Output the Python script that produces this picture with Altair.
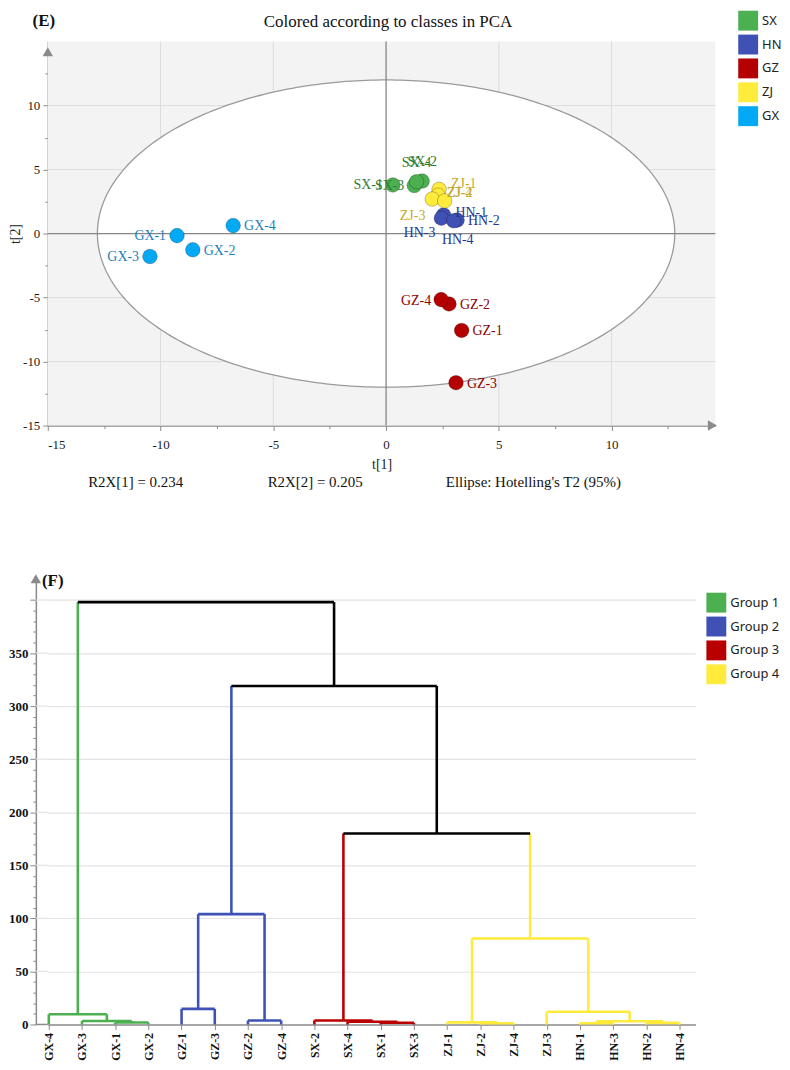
import altair as alt
import numpy as np
import pandas as pd

SERIF = "Liberation Serif"
SANS = "Noto Sans"

# ================= Panel (E): PCA score plot =================
pca_names = ["SX-1", "SX-2", "SX-3", "SX-4",
             "HN-1", "HN-2", "HN-3", "HN-4",
             "GZ-1", "GZ-2", "GZ-3", "GZ-4",
             "ZJ-1", "ZJ-2", "ZJ-3", "ZJ-4",
             "GX-1", "GX-2", "GX-3", "GX-4"]
pca_t1 = [0.30, 1.60, 1.25, 1.35,
          2.55, 3.15, 2.45, 3.00,
          3.35, 2.79, 3.10, 2.44,
          2.35, 2.30, 2.05, 2.60,
          -9.27, -8.57, -10.47, -6.78]
pca_t2 = [3.80, 4.10, 3.75, 4.05,
          1.45, 1.05, 1.20, 1.00,
          -7.57, -5.50, -11.65, -5.16,
          3.45, 3.00, 2.70, 2.55,
          -0.16, -1.27, -1.79, 0.62]
classes = ["SX", "HN", "GZ", "ZJ", "GX"]
class_colors = ["#4caf50", "#3f51b5", "#b40000", "#ffeb3b", "#03a9f4"]
label_colors = ["#2e7d32", "#283593", "#8b0000", "#c4ab2c", "#1f7fb8"]
ellipse_axes = [12.8, 12.0]          # Hotelling's T2 (95%) semi-axes
title_E = "Colored according to classes in PCA"
footer_texts = ["R2X[1] = 0.234", "R2X[2] = 0.205", "Ellipse: Hotelling's T2 (95%)"]
footer_t1 = [-13.21, -5.25, 2.65]
grid_E = [-10, -5, 5, 10]
ticks_E = [-15 + 2.5 * i for i in range(12)]

# ================= Panel (F): dendrogram =================
leaves = ["GX-4", "GX-3", "GX-1", "GX-2", "GZ-1", "GZ-3", "GZ-2", "GZ-4",
          "SX-2", "SX-4", "SX-1", "SX-3", "ZJ-1", "ZJ-2", "ZJ-4", "ZJ-3",
          "HN-1", "HN-3", "HN-2", "HN-4"]
merge_a = [2, 1, 0, 4, 6, 23, 10, 9, 8, 13, 12, 16, 18, 31, 15, 30, 28, 25, 22]
merge_b = [3, 20, 21, 5, 7, 24, 11, 26, 27, 14, 29, 17, 19, 32, 33, 34, 35, 36, 37]
merge_h = [1.8, 3.2, 9.6, 14.7, 3.8, 104, 1.6, 2.6, 3.8,
           1.2, 2.0, 1.2, 1.5, 3.0, 12, 81, 180, 319, 398]
merge_grp = (["Group 1"] * 3 + ["Group 2"] * 3 + ["Group 3"] * 3
             + ["Group 4"] * 7 + ["root"] * 3)
groups = ["Group 1", "Group 2", "Group 3", "Group 4"]
group_colors = ["#4caf50", "#3f51b5", "#b80000", "#ffeb3b"]
grid_F = [0, 50, 100, 150, 200, 250, 300, 350, 400]

# ---------------- layout / style settings ----------------
label_offsets = {
    "SX-1": (-10, 0, "right"), "SX-3": (-10, 0, "right"),
    "SX-4": (0, -19, "center"), "SX-2": (0, -19, "center"),
    "ZJ-1": (12, -5, "left"), "ZJ-2": (9, -2, "left"),
    "ZJ-4": (2, -8, "left"), "ZJ-3": (-7, 17, "right"),
    "HN-1": (12, -2, "left"), "HN-2": (11, 1, "left"),
    "HN-3": (-6, 15, "right"), "HN-4": (4, 19, "center"),
    "GZ-1": (11, 1, "left"), "GZ-2": (11, 1, "left"),
    "GZ-3": (11, 1, "left"), "GZ-4": (-10, 1, "right"),
    "GX-1": (-11, 0, "right"), "GX-2": (11, 1, "left"),
    "GX-3": (-11, 1, "right"), "GX-4": (11, 0, "left"),
}

# ================= build panel E =================
pca = pd.DataFrame({"name": pca_names, "t1": pca_t1, "t2": pca_t2,
                    "cls": [n.split("-")[0] for n in pca_names]})

scale_xE = alt.Scale(domain=[-15, 14.6], nice=False, zero=False)
scale_yE = alt.Scale(domain=[-15, 15], nice=False, zero=False)
minor5 = "datum.value % 5 !== 0"
axis_common = dict(grid=False, labelFont=SERIF, labelFontSize=13, labelColor="#222",
                   titleFont=SERIF, titleFontSize=14, titleFontWeight="normal",
                   titleColor="#222", domainColor="#8a8a8a", domainWidth=1.5,
                   tickColor="#8a8a8a", tickWidth=1,
                   tickSize={"condition": {"test": minor5, "value": 3}, "value": 5},
                   labelExpr="datum.value % 5 === 0 ? '' + datum.value : ''",
                   values=ticks_E)
axis_xE = alt.Axis(title="t[1]", labelPadding=8, titlePadding=6, **axis_common)
axis_yE = alt.Axis(title="t[2]", labelPadding=3, titlePadding=0, **axis_common)


def xE(f):
    return alt.X(f, type="quantitative", scale=scale_xE, axis=axis_xE)


def yE(f):
    return alt.Y(f, type="quantitative", scale=scale_yE, axis=axis_yE)


bg = alt.Chart(pd.DataFrame({"t1": [scale_xE.domain[0]], "t1e": [scale_xE.domain[1]],
                             "t2": [scale_yE.domain[0]], "t2e": [scale_yE.domain[1]]})
               ).mark_rect(color="#f3f3f3").encode(x=xE("t1"), x2="t1e", y=yE("t2"), y2="t2e")

a, b = ellipse_axes
th = np.linspace(np.pi, 0, 241)
ell_fill_df = pd.DataFrame({"t1": a * np.cos(th), "t2": b * np.sin(th), "t2b": -b * np.sin(th)})
th2 = np.linspace(0, 2 * np.pi, 361)
ell_line_df = pd.DataFrame({"t1": a * np.cos(th2), "t2": b * np.sin(th2), "o": np.arange(361)})

ell_fill = alt.Chart(ell_fill_df).mark_area(color="white", opacity=1).encode(
    x=xE("t1"), y=yE("t2"), y2="t2b")
grid_v = alt.Chart(pd.DataFrame({"t1": grid_E})).mark_rule(color="#dcdcdc", strokeWidth=1).encode(x=xE("t1"))
grid_h = alt.Chart(pd.DataFrame({"t2": grid_E})).mark_rule(color="#dcdcdc", strokeWidth=1).encode(y=yE("t2"))
ell_line = alt.Chart(ell_line_df).mark_line(color="#9a9a9a", strokeWidth=1.3).encode(
    x=xE("t1"), y=yE("t2"), order="o:Q")
cross_v = alt.Chart(pd.DataFrame({"t1": [0]})).mark_rule(color="#858585", strokeWidth=1.3).encode(x=xE("t1"))
cross_h = alt.Chart(pd.DataFrame({"t2": [0]})).mark_rule(color="#858585", strokeWidth=1.3).encode(y=yE("t2"))

points = alt.Chart(pca).mark_circle(size=215, opacity=1, stroke="black",
                                    strokeOpacity=0.3, strokeWidth=0.8).encode(
    x=xE("t1"), y=yE("t2"),
    color=alt.Color("cls:N", scale=alt.Scale(domain=classes, range=class_colors),
                    legend=alt.Legend(orient="none", legendX=694, legendY=-31, title=None,
                                      symbolType="square", symbolSize=400,
                                      symbolStrokeWidth=0, symbolOpacity=1,
                                      labelFont=SANS, labelFontSize=13, labelColor="#222",
                                      rowPadding=4, labelOffset=4, padding=0)))

label_layers = []
groups_off = {}
for nm, off in label_offsets.items():
    groups_off.setdefault(off, []).append(nm)
for (dx, dy, al), names in groups_off.items():
    label_layers.append(
        alt.Chart(pca[pca["name"].isin(names)]).mark_text(
            align=al, baseline="middle", dx=dx, dy=dy, font=SERIF, fontSize=14).encode(
            x=xE("t1"), y=yE("t2"), text="name:N",
            color=alt.Color("cls:N", scale=alt.Scale(domain=classes, range=label_colors),
                            legend=None)))

footer = alt.Chart(pd.DataFrame({"t1": footer_t1, "txt": footer_texts})).mark_text(
    align="left", baseline="middle", font=SERIF, fontSize=15, color="#111").encode(
    x=xE("t1"), y=alt.value(443), text="txt:N")

arrow_y = alt.Chart(pd.DataFrame({"t1": [-15], "t2": [14.2]})).mark_point(
    shape="triangle-up", filled=True, size=110, color="#8a8a8a", opacity=1).encode(
    x=xE("t1"), y=yE("t2"))
arrow_x = alt.Chart(pd.DataFrame({"t1": [14.47], "t2": [-15]})).mark_point(
    shape="triangle-right", filled=True, size=110, color="#8a8a8a", opacity=1).encode(
    x=xE("t1"), y=yE("t2"))

tags_E = alt.Chart(pd.DataFrame({"t": ["(E)"]})).mark_text(
    font=SERIF, fontSize=17, fontWeight="bold", align="center", baseline="middle",
    color="#111").encode(x=alt.value(-4), y=alt.value(-21), text="t:N")
title_mark = alt.Chart(pd.DataFrame({"t": [title_E]})).mark_text(
    font=SERIF, fontSize=17, align="center", baseline="middle",
    color="#111").encode(x=alt.value(342), y=alt.value(-20), text="t:N")

panel_E = alt.layer(bg, grid_v, grid_h, ell_fill, ell_line, cross_v, cross_h,
                    points, *label_layers, footer, arrow_y, arrow_x, tags_E, title_mark
                    ).resolve_scale(color="independent").properties(width=671, height=386)

# ================= build panel F =================
n = len(leaves)
node_x = list(range(n))
node_h = [0.0] * n
node_g = [None] * n
segs = []
for l, r, h, g in zip(merge_a, merge_b, merge_h, merge_grp):
    segs.append({"x": node_x[l], "x2": node_x[r], "y": h, "y2": h, "grp": g})
    for c in (l, r):
        cg = node_g[c] if c >= n else g
        segs.append({"x": node_x[c], "x2": node_x[c], "y": node_h[c], "y2": h, "grp": cg})
    node_x.append((node_x[l] + node_x[r]) / 2)
    node_h.append(h)
    node_g.append(g)
seg_df = pd.DataFrame(segs)

scale_xF = alt.Scale(domain=[-0.03, 19.48], nice=False, zero=False)
scale_yF = alt.Scale(domain=[0, 420], nice=False, zero=False)
leaf_js = "[" + ",".join("'" + s + "'" for s in leaves) + "]"
axis_xF = alt.Axis(values=list(range(n)), labelExpr=leaf_js + "[datum.value]",
                   labelAngle=270, labelFont=SERIF, labelFontSize=12, labelFontWeight="bold",
                   labelColor="#111", labelPadding=3, tickSize=5, tickColor="#8a8a8a",
                   domainColor="#8a8a8a", domainWidth=1.5, grid=False, title=None)
minor50 = "datum.value % 50 !== 0"
axis_yF = alt.Axis(values=list(range(0, 401, 10)),
                   labelExpr="datum.value % 50 === 0 && datum.value <= 350 ? '' + datum.value : ''",
                   offset=12, labelFont=SERIF, labelFontSize=13, labelFontWeight="bold",
                   labelColor="#111", labelPadding=2, tickColor="#8a8a8a", tickWidth=1,
                   tickSize={"condition": {"test": minor50, "value": 3}, "value": 6},
                   domainColor="#8a8a8a", domainWidth=1.5, grid=True,
                   gridColor={"condition": {"test": "datum.value % 50 === 0 && datum.value > 0",
                                            "value": "#e3e3e3"}, "value": "rgba(0,0,0,0)"},
                   gridWidth=1.2, title=None)


def xF(f):
    return alt.X(f, type="quantitative", scale=scale_xF, axis=axis_xF)


def yF(f):
    return alt.Y(f, type="quantitative", scale=scale_yF, axis=axis_yF)


grid_stub = alt.Chart(pd.DataFrame({"y": grid_F[1:]})).mark_rule(
    color="#e3e3e3", strokeWidth=1.2).encode(x=alt.value(-12), x2=alt.value(0), y=yF("y"))
base_stub = alt.Chart(pd.DataFrame({"y": grid_F[:1]})).mark_rule(
    color="#8a8a8a", strokeWidth=1.5).encode(x=alt.value(-12), x2=alt.value(0), y=yF("y"))

seg_col = alt.Chart(seg_df[seg_df["grp"] != "root"]).mark_rule(strokeWidth=2.6).encode(
    x=xF("x"), x2="x2", y=yF("y"), y2="y2",
    color=alt.Color("grp:N", scale=alt.Scale(domain=groups, range=group_colors), legend=None))
seg_root = alt.Chart(seg_df[seg_df["grp"] == "root"]).mark_rule(
    strokeWidth=2.6, color="black").encode(x=xF("x"), x2="x2", y=yF("y"), y2="y2")

# legend source: squares placed just below the plot area and clipped away
legend_src = alt.Chart(pd.DataFrame({"grp": groups, "x": [5] * 4, "y": [-8] * 4})).mark_square(
    opacity=1, clip=True, size=20).encode(
    x=xF("x"), y=yF("y"),
    color=alt.Color("grp:N", scale=alt.Scale(domain=groups, range=group_colors),
                    legend=alt.Legend(orient="none", legendX=662, legendY=14, title=None,
                                      symbolType="square", symbolSize=400,
                                      symbolStrokeWidth=0, symbolOpacity=1,
                                      labelFont=SANS, labelFontSize=13, labelColor="#222",
                                      rowPadding=4, labelOffset=4, padding=0)))

arrow_F = alt.Chart(pd.DataFrame({"y": [420]})).mark_point(
    shape="triangle-up", filled=True, size=110, color="#8a8a8a", opacity=1).encode(
    x=alt.value(-12), y=yF("y"))

tag_F = alt.Chart(pd.DataFrame({"t": ["(F)"]})).mark_text(
    font=SERIF, fontSize=17, fontWeight="bold", align="center", baseline="middle",
    color="#111").encode(x=alt.value(5), y=alt.value(2), text="t:N")

panel_F = alt.layer(grid_stub, base_stub, seg_col, seg_root, legend_src, arrow_F, tag_F
                    ).resolve_scale(color="independent").properties(width=651, height=448)

chart = alt.vconcat(panel_E, panel_F, spacing=82).resolve_scale(
    color="independent").resolve_legend(color="independent").properties(
    padding={"left": 0, "top": 0, "right": 0, "bottom": 0}).configure_view(strokeWidth=0)

chart.save("out.html", embed_options={"renderer": "svg", "actions": False})
